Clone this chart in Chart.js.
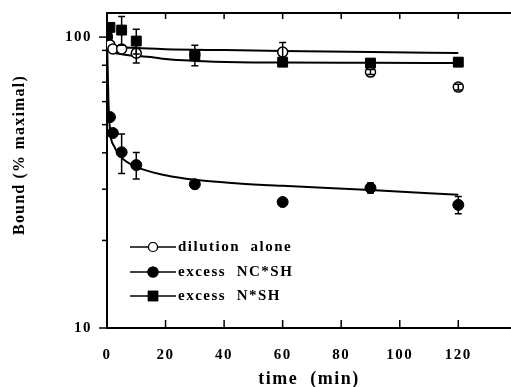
<!DOCTYPE html>
<html><head><meta charset="utf-8">
<script src="https://cdn.jsdelivr.net/npm/chart.js@4/dist/chart.umd.min.js"></script>
<style>html,body{margin:0;padding:0;background:#fff;overflow:hidden}canvas{display:block}</style>
</head><body>
<canvas id="c" width="511" height="387"></canvas>
<script>
// ---- data ----
const xTicks = [0,20,40,60,80,100,120];
const yTicks = [10,20,30,40,50,60,70,80,90,100];
const seriesLabels = ['dilution  alone','excess  NC*SH','excess  N*SH'];
const yTitle = 'Bound (% maximal)';
const xTitle = 'time  (min)';
// dilution alone (open circles)
const dilT = [0,1,2,5,10,30,60,90,120];
const dilV = [100,94,91,91,88,87,88.8,75.8,67.3];
const dilErr = [0,0,0,0,6.5,0,7,1.5,1.5];
// excess NC*SH (filled circles)
const ncT = [0,1,2,5,10,30,60,90,120];
const ncV = [100,53.1,46.8,40.2,36.3,31.2,27.1,30.3,26.5];
const ncErr = [0,0,0,6.2,3.8,0,0,1.2,1.8];
// excess N*SH (filled squares)
const nsT = [0,1,5,10,30,60,90,120];
const nsV = [102,108,105.7,96.9,86.7,82.0,81.4,82.0];
const nsErr = [0,0,12,9.5,7,0,0,0];
// fitted curves
const dilFitT = [0,1,3,10,20,40,60,90,120];
const dilFitV = [100,95,93,91.7,90.9,90.2,89.6,88.8,88.1];
const ncFitT = [0,0.5,1,2.5,5,10,20,30,45,60,90,120];
const ncFitV = [100,60,48,42,38.5,35.8,33.5,32.3,31.4,30.8,29.8,28.7];
const nsFitT = [0,1,3,8,15,20,30,45,60,90,120];
const nsFitV = [100,90,88,86.5,85.4,84,82.8,82,81.8,81.6,81.4];

const FONT = 'Liberation Serif';
const pts = (T,V)=>T.map((t,i)=>({x:t,y:V[i]}));

const errSets = [[dilT,dilV,dilErr],[ncT,ncV,ncErr],[nsT,nsV,nsErr]];

const spacingPlugin = {
  id:'spacing',
  beforeUpdate(c){ c.ctx.letterSpacing='1.5px'; },
  beforeDraw(c){ c.ctx.letterSpacing='1.5px'; c.ctx.fillStyle='#fff'; c.ctx.fillRect(0,0,c.width,c.height); }
};
const errPlugin = {
  id:'err',
  afterDatasetsDraw(chart){
    const {ctx, scales:{x,y}} = chart;
    ctx.save(); ctx.strokeStyle='#000'; ctx.lineWidth=1.5;
    errSets.forEach(([T,V,E])=>{
      T.forEach((t,i)=>{
        if(!E[i]) return;
        const px=x.getPixelForValue(t), hi=y.getPixelForValue(V[i]+E[i]), lo=y.getPixelForValue(V[i]-E[i]);
        ctx.beginPath(); ctx.moveTo(px,hi); ctx.lineTo(px,lo);
        ctx.moveTo(px-3.5,hi); ctx.lineTo(px+3.5,hi);
        ctx.moveTo(px-3.5,lo); ctx.lineTo(px+3.5,lo); ctx.stroke();
      });
    });
    ctx.restore();
  }
};
const framePlugin = {
  id:'frame',
  afterDraw(chart){
    const {ctx, chartArea:a, scales:{x,y}} = chart;
    ctx.save(); ctx.strokeStyle='#000'; ctx.lineWidth=2;
    ctx.beginPath(); ctx.moveTo(a.left-1,a.top); ctx.lineTo(a.right,a.top); ctx.stroke();
    ctx.lineWidth=1.5;
    xTicks.forEach(v=>{ if(v===0) return; const px=x.getPixelForValue(v);
      ctx.beginPath(); ctx.moveTo(px,a.bottom); ctx.lineTo(px,a.bottom-8);
      ctx.moveTo(px,a.top); ctx.lineTo(px,a.top+6); ctx.stroke(); });
    yTicks.forEach(v=>{ const py=y.getPixelForValue(v); const len=(v===10||v===100)?8:5;
      ctx.beginPath(); ctx.moveTo(a.left,py); ctx.lineTo(a.left-len,py); ctx.stroke(); });
    // y axis title
    ctx.save();
    ctx.translate(20,155); ctx.rotate(-Math.PI/2);
    ctx.fillStyle='#000'; ctx.font='bold 16px "'+FONT+'"'; ctx.letterSpacing='1.2px';
    ctx.textAlign='center'; ctx.textBaseline='middle';
    ctx.fillText(yTitle,0,0);
    ctx.restore();
    // legend
    const rows=[247,272,296];
    const ds = chart.data.datasets;
    rows.forEach((ry,i)=>{
      const d = ds[i];
      ctx.lineWidth=1.5; ctx.strokeStyle='#000';
      ctx.beginPath(); ctx.moveTo(130,ry); ctx.lineTo(176,ry); ctx.stroke();
      ctx.fillStyle = d.pointBackgroundColor; ctx.lineWidth=1.2;
      Chart.helpers.drawPoint(ctx,{pointStyle:d.pointStyle,rotation:0,borderWidth:1.2,radius:d.legendRadius},153,ry);
      ctx.fill(); ctx.stroke();
      ctx.fillStyle='#000'; ctx.font='bold 15px "'+FONT+'"'; ctx.textBaseline='middle'; ctx.textAlign='left';
      ctx.letterSpacing='1.5px';
      ctx.fillText(d.label,178,ry);
    });
    ctx.restore();
  }
};

new Chart(document.getElementById('c'),{
  data:{datasets:[
    {type:'scatter',label:seriesLabels[0],data:pts(dilT,dilV),pointStyle:'circle',pointRadius:5,pointBackgroundColor:'#fff',pointBorderColor:'#000',pointBorderWidth:1.5,legendRadius:4.5,showLine:false,order:1},
    {type:'scatter',label:seriesLabels[1],data:pts(ncT,ncV),pointStyle:'circle',pointRadius:5.5,pointBackgroundColor:'#000',pointBorderColor:'#000',pointBorderWidth:1,legendRadius:5,showLine:false,order:1},
    {type:'scatter',label:seriesLabels[2],data:pts(nsT,nsV),pointStyle:'rect',pointRadius:7,pointBackgroundColor:'#000',pointBorderColor:'#000',pointBorderWidth:1,legendRadius:6.5,showLine:false,order:0},
    {type:'line',data:pts(dilFitT,dilFitV),borderColor:'#000',borderWidth:2,pointRadius:0,cubicInterpolationMode:'monotone',fill:false,order:2},
    {type:'line',data:pts(ncFitT,ncFitV),borderColor:'#000',borderWidth:2,pointRadius:0,cubicInterpolationMode:'monotone',fill:false,order:2},
    {type:'line',data:pts(nsFitT,nsFitV),borderColor:'#000',borderWidth:2,pointRadius:0,cubicInterpolationMode:'monotone',fill:false,order:2}
  ]},
  options:{
    responsive:false, animation:false, devicePixelRatio:1,
    layout:{autoPadding:false,padding:{top:13,left:0,right:0,bottom:0}},
    plugins:{legend:{display:false},tooltip:{enabled:false}},
    scales:{
      x:{type:'linear',min:0,max:138,
        afterBuildTicks(s){ s.ticks = xTicks.map(v=>({value:v})); },
        afterFit(s){ s.height=59; s.paddingLeft=0; s.paddingRight=0; },
        grid:{drawOnChartArea:false,drawTicks:false},
        border:{display:true,color:'#000',width:2},
        ticks:{padding:18,color:'#000',font:{family:FONT,size:15,weight:'bold'},maxRotation:0,autoSkip:false},
        title:{display:true,text:xTitle,color:'#000',font:{family:FONT,size:18,weight:'bold',lineHeight:1},padding:{top:0,bottom:-1}}
      },
      y:{type:'logarithmic',min:10,max:121,
        afterBuildTicks(s){ s.ticks = yTicks.map(v=>({value:v})); },
        afterFit(s){ s.width=107; s.paddingTop=0; s.paddingBottom=0; },
        grid:{drawOnChartArea:false,drawTicks:false},
        border:{display:true,color:'#000',width:2},
        ticks:{padding:15,color:'#000',font:{family:FONT,size:15,weight:'bold'},autoSkip:false,
          callback:(v)=> (v===10||v===100)? String(v):''},
        title:{display:false}
      }
    }
  },
  plugins:[spacingPlugin,errPlugin,framePlugin]
});
</script>
</body></html>
